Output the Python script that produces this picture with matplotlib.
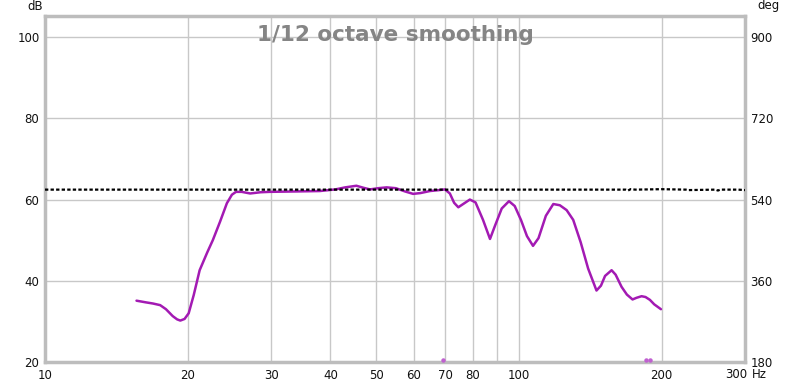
import matplotlib
matplotlib.use("Agg")
import matplotlib.pyplot as plt
from matplotlib.ticker import FixedLocator, NullLocator

# ---- data ----
spl_freq = [15.6, 16.3, 16.9, 17.5, 18.0, 18.6, 19.0, 19.3, 19.7, 20.1, 20.6, 21.2, 22.0, 22.6,
            23.4, 24.2, 24.8, 25.3, 26.0, 27.1, 28.5, 29.8, 34.0, 38.0, 41.0, 43.0, 45.4,
            47.0, 48.5, 50.5, 52.6, 55.0, 57.5, 59.8, 62.0, 64.9, 67.5, 69.8, 71.5, 73.0,
            74.5, 76.5, 78.8, 81.0, 84.0, 86.9, 89.0, 92.0, 95.3, 98.0, 101.0, 104.0,
            107.1, 110.0, 114.0, 118.2, 122.0, 126.1, 130.2, 135.0, 140.0, 145.8, 149.0,
            152.0, 156.9, 160.0, 164.7, 169.0, 173.7, 177.0, 181.5, 185.0, 189.0, 193.0, 199.4]
spl_db = [35.1, 34.7, 34.4, 34.0, 33.0, 31.3, 30.5, 30.2, 30.6, 32.0, 36.5, 42.6, 47.0, 50.0,
          54.5, 59.1, 61.2, 61.9, 61.9, 61.5, 61.8, 61.9, 62.0, 62.1, 62.5, 63.0, 63.4,
          62.9, 62.5, 62.8, 63.0, 62.8, 62.0, 61.4, 61.6, 62.1, 62.3, 62.5, 61.5, 59.2,
          58.1, 59.0, 60.0, 59.3, 55.0, 50.3, 53.5, 57.8, 59.6, 58.4, 55.0, 51.0,
          48.6, 50.5, 56.0, 58.9, 58.6, 57.4, 55.0, 49.5, 43.0, 37.6, 38.8,
          41.2, 42.6, 41.5, 38.5, 36.6, 35.4, 35.8, 36.2, 36.0, 35.3, 34.2, 33.0]

phase_freq = [10, 30, 60, 100, 150, 168, 170, 172, 176, 200, 225, 228, 260, 263, 266, 290, 300]
phase_deg = [562, 562, 562, 562, 562, 562, 560, 563, 562, 563, 562, 561, 562, 560, 562, 562, 561]

marker_freq = [69.0, 185.5, 189.5]
marker_db = [20.4, 20.4, 20.4]

x_ticks = [10, 20, 30, 40, 50, 60, 70, 80, 100, 200]
x_labels = ["10", "20", "30", "40", "50", "60", "70", "80", "100", "200"]
x_grid = [20, 30, 40, 50, 60, 70, 80, 90, 100, 200]
y_ticks = [20, 40, 60, 80, 100]
deg_ticks = [180, 360, 540, 720, 900]

# ---- figure ----
W, H = 800, 385
fig = plt.figure(figsize=(W / 100, H / 100), dpi=100)
L, R, T, B = 45, 745, 16, 362
ax = fig.add_axes([L / W, (H - B) / H, (R - L) / W, (B - T) / H])

ymin, ymax = 20, 105.2
ax.set_xscale("log")
ax.set_xlim(10, 300)
ax.set_ylim(ymin, ymax)

grid_c = "#c8c8c8"
for f in x_grid:
    ax.axvline(f, color=grid_c, lw=1, zorder=0)
for y in y_ticks[1:]:
    ax.axhline(y, color=grid_c, lw=1, zorder=0)

ax.xaxis.set_major_locator(FixedLocator(x_ticks))
ax.set_xticklabels(x_labels)
ax.xaxis.set_minor_locator(NullLocator())
ax.set_yticks(y_ticks)
ax.tick_params(axis="both", length=0, labelsize=8.5, colors="#111111")
ax.tick_params(axis="x", pad=5)
ax.tick_params(axis="y", pad=4)

for s in ax.spines.values():
    s.set_color("#bdbdbd")
    s.set_linewidth(2.5)

ax.plot(spl_freq, spl_db, color="#a31ab3", lw=1.8, zorder=3,
        solid_capstyle="round", solid_joinstyle="round")
ax.plot(marker_freq, marker_db, ls="none", marker="o", ms=2.2, color="#c060d0", zorder=3)

ax2 = ax.twinx()
ax2.set_ylim(180 + (ymin - 20) * 9, 180 + (ymax - 20) * 9)
ax2.set_yticks(deg_ticks)
ax2.tick_params(axis="y", length=0, labelsize=8.5, colors="#111111", pad=4)
for s in ax2.spines.values():
    s.set_visible(False)
ax2.plot(phase_freq, phase_deg, color="black", lw=1.6, ls=(0, (1.5, 1.0)), zorder=2)

ax.text(0.5, 0.944, "1/12 octave smoothing", transform=ax.transAxes, ha="center",
        va="center", fontsize=15.5, fontweight="bold", color="#858585", zorder=4,
        family="DejaVu Sans")

fig.text(35 / W, 1 - 6 / H, "dB", ha="center", va="center", fontsize=8.5, color="#111111")
fig.text(768 / W, 1 - 6 / H, "deg", ha="center", va="center", fontsize=8.5, color="#111111")
fig.text(752 / W, 1 - 375 / H, "Hz", ha="left", va="center", fontsize=8.5, color="#111111")
fig.text(736 / W, 1 - 375 / H, "300", ha="center", va="center", fontsize=8.5, color="#111111")

fig.savefig("out.png", dpi=100, facecolor="white")
